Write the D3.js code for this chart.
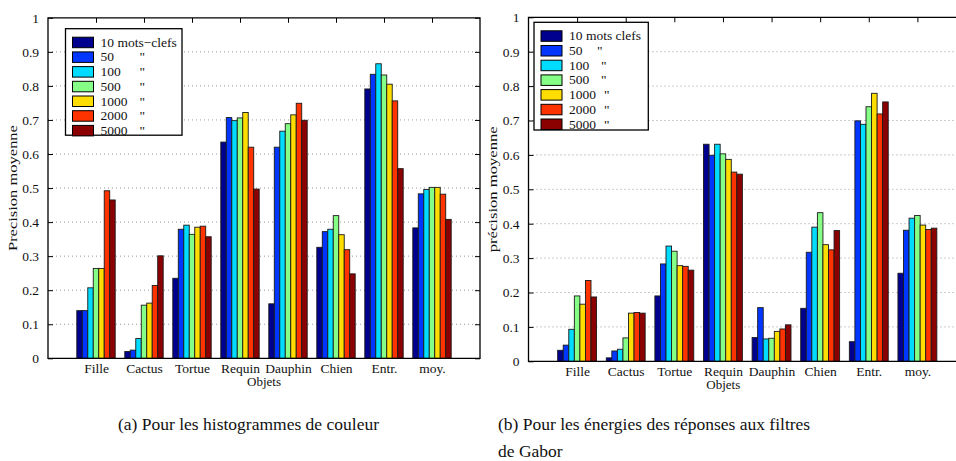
<!DOCTYPE html>
<html>
<head>
<meta charset="utf-8">
<script src="https://cdn.jsdelivr.net/npm/d3@7"></script>
<style>
  html, body { margin: 0; padding: 0; background: #fff; }
  svg { display: block; }
  svg text { font-family: "Liberation Serif", "Times New Roman", "DejaVu Serif", serif; }
</style>
</head>
<body>
<svg id="fig" width="956" height="461"></svg>
<script>
// Categories (objects) and keyword-count series
const categories = ["Fille", "Cactus", "Tortue", "Requin", "Dauphin", "Chien", "Entr.", "moy."];
const seriesKeys = ["10", "50", "100", "500", "1000", "2000", "5000"];
const seriesColors = ["#00008f", "#0036ff", "#00dcff", "#86ff86", "#ffdd00", "#ff3300", "#8b0000"];
const legendLabelsA = ["10 mots\u2212clefs", "50", "100", "500", "1000", "2000", "5000"];
const legendLabelsB = ["10 mots clefs", "50", "100", "500", "1000", "2000", "5000"];
const yTicks = [0, 0.1, 0.2, 0.3, 0.4, 0.5, 0.6, 0.7, 0.8, 0.9, 1];

// (a) colour histograms: one row per category, one value per series
const valuesA = [
  [0.140, 0.140, 0.207, 0.264, 0.264, 0.492, 0.465],
  [0.020, 0.024, 0.058, 0.156, 0.162, 0.214, 0.301],
  [0.235, 0.379, 0.391, 0.364, 0.385, 0.388, 0.357],
  [0.635, 0.707, 0.698, 0.706, 0.722, 0.620, 0.497],
  [0.160, 0.620, 0.667, 0.689, 0.715, 0.749, 0.699],
  [0.326, 0.372, 0.379, 0.419, 0.363, 0.319, 0.248],
  [0.791, 0.834, 0.865, 0.832, 0.805, 0.756, 0.557],
  [0.383, 0.483, 0.496, 0.502, 0.502, 0.482, 0.408]
];

// (b) Gabor filter response energies
const valuesB = [
  [0.032, 0.047, 0.093, 0.190, 0.166, 0.235, 0.187],
  [0.010, 0.030, 0.035, 0.068, 0.140, 0.142, 0.140],
  [0.190, 0.283, 0.335, 0.320, 0.278, 0.276, 0.265],
  [0.631, 0.599, 0.631, 0.603, 0.587, 0.550, 0.544],
  [0.069, 0.156, 0.065, 0.067, 0.087, 0.094, 0.106],
  [0.154, 0.317, 0.390, 0.432, 0.339, 0.324, 0.380],
  [0.057, 0.699, 0.689, 0.740, 0.779, 0.719, 0.754],
  [0.256, 0.381, 0.416, 0.424, 0.396, 0.383, 0.387]
];

const SERIF = "Liberation Serif, Times New Roman, DejaVu Serif, serif";
const svg = d3.select("#fig").attr("font-family", SERIF);

function drawPanel(cfg) {
  const g = svg.append("g");
  const x = d3.scaleLinear().domain([0, 9]).range([cfg.left, cfg.right]);
  const y = d3.scaleLinear().domain([0, 1]).range([cfg.bottom, cfg.top]);
  const unit = x(1) - x(0);
  const inner = d3.scaleBand().domain(seriesKeys).range([-0.4 * unit, 0.4 * unit]);
  const xRight = Math.min(cfg.right, 956);

  // dotted grid
  g.append("g").selectAll("line")
    .data(yTicks.filter(t => t > 0 && t < 1))
    .join("line")
    .attr("x1", cfg.left).attr("x2", cfg.right)
    .attr("y1", d => y(d)).attr("y2", d => y(d))
    .attr("stroke", "#9a9a9a").attr("stroke-width", 1)
    .attr("stroke-dasharray", "1,3");

  // left axis, ticks pointing inward
  const yAxis = d3.axisLeft(y).tickValues(yTicks).tickFormat(d3.format("")).tickSize(-5).tickPadding(9);
  const ya = g.append("g").attr("transform", `translate(${cfg.left},0)`).call(yAxis)
    .attr("font-family", SERIF).attr("font-size", 13.5);
  ya.select(".domain").remove();
  ya.selectAll("line").attr("stroke", "#000");
  ya.selectAll("text").attr("fill", "#111");

  // right-side ticks
  const yr = g.append("g").attr("transform", `translate(${cfg.right},0)`)
    .call(d3.axisRight(y).tickValues(yTicks).tickFormat("").tickSize(-5));
  yr.select(".domain").remove();
  yr.selectAll("line").attr("stroke", "#000");

  // top ticks at categories
  const xt = g.append("g").attr("transform", `translate(0,${cfg.top})`)
    .call(d3.axisTop(x).tickValues(d3.range(1, 9)).tickFormat("").tickSize(-5));
  xt.select(".domain").remove();
  xt.selectAll("line").attr("stroke", "#000");

  // bars
  const groups = g.append("g").selectAll("g")
    .data(cfg.values)
    .join("g")
    .attr("transform", (d, i) => `translate(${x(i + 1)},0)`);
  groups.selectAll("rect")
    .data(d => d.map((v, j) => ({ key: seriesKeys[j], v, c: seriesColors[j] })))
    .join("rect")
    .attr("x", d => inner(d.key))
    .attr("width", inner.bandwidth())
    .attr("y", d => y(d.v))
    .attr("height", d => y(0) - y(d.v))
    .attr("fill", d => d.c)
    .attr("stroke", "#1a1a1a").attr("stroke-width", 0.9);

  // bottom axis with category labels
  const xb = g.append("g").attr("transform", `translate(0,${cfg.bottom})`)
    .call(d3.axisBottom(x).tickValues(d3.range(1, 9)).tickFormat(i => categories[i - 1]).tickSize(0).tickPadding(5))
    .attr("font-family", SERIF).attr("font-size", 13.5);
  xb.select(".domain").remove();
  xb.selectAll("text").attr("fill", "#111");

  // box
  g.append("path")
    .attr("d", `M${cfg.left},${cfg.top}V${cfg.bottom}H${cfg.right}V${cfg.top}Z`)
    .attr("fill", "none").attr("stroke", "#000").attr("stroke-width", 1.3);

  // axis titles (stretched along the baseline)
  g.append("text")
    .attr("x", (cfg.left + xRight) / 2 + cfg.objOffset).attr("y", cfg.bottom + 28)
    .attr("text-anchor", "middle").attr("font-size", 12).attr("fill", "#111")
    .attr("textLength", 34).attr("lengthAdjust", "spacingAndGlyphs")
    .text("Objets");
  g.append("text")
    .attr("transform", `translate(${cfg.yLabelX},${(cfg.top + cfg.bottom) / 2}) rotate(-90)`)
    .attr("text-anchor", "middle").attr("font-size", 12.5).attr("fill", "#111")
    .attr("textLength", 126).attr("lengthAdjust", "spacingAndGlyphs")
    .text(cfg.yLabel);

  // legend
  const lg = g.append("g").attr("transform", `translate(${cfg.legend.x},${cfg.legend.y})`);
  lg.append("rect").attr("width", cfg.legend.w).attr("height", cfg.legend.h)
    .attr("fill", "#fff").attr("stroke", "#000").attr("stroke-width", 1.3);
  const rows = lg.selectAll("g.row").data(seriesKeys).join("g").attr("class", "row")
    .attr("transform", (d, i) => `translate(0,${8.5 + i * 14.7})`);
  rows.append("rect").attr("x", 7).attr("width", 21).attr("height", 10.5)
    .attr("fill", (d, i) => seriesColors[i]).attr("stroke", "#000").attr("stroke-width", 1);
  rows.append("text").attr("x", 35).attr("y", 9.5).attr("font-size", 13.5).attr("fill", "#111")
    .text((d, i) => cfg.legendLabels[i]);
  rows.filter((d, i) => i > 0).append("text")
    .attr("x", (d, i) => cfg.quoteX[i]).attr("y", 9.5).attr("font-size", 13.5).attr("fill", "#111")
    .text("\"");
}

drawPanel({
  left: 48, right: 480, top: 17.8, bottom: 358.3,
  values: valuesA, legendLabels: legendLabelsA,
  legend: { x: 65.5, y: 28.7, w: 116.5, h: 106.5 },
  quoteX: [74, 74, 74, 74, 74, 74],
  yLabel: "Precision moyenne", yLabelX: 17, objOffset: 0
});

drawPanel({
  left: 528.5, right: 966, top: 17.3, bottom: 361.3,
  values: valuesB, legendLabels: legendLabelsB,
  legend: { x: 534, y: 22.3, w: 114.3, h: 107.7 },
  quoteX: [63, 67, 67, 70, 70, 70],
  yLabel: "précision moyenne", yLabelX: 497, objOffset: -19
});

// captions
const captions = svg.append("g").attr("font-size", 17.5).attr("fill", "#111");
captions.append("text").attr("x", 118).attr("y", 430).text("(a) Pour les histogrammes de couleur");
captions.append("text").attr("x", 498).attr("y", 430).text("(b) Pour les énergies des réponses aux filtres");
captions.append("text").attr("x", 498).attr("y", 457).text("de Gabor");
</script>
</body>
</html>
